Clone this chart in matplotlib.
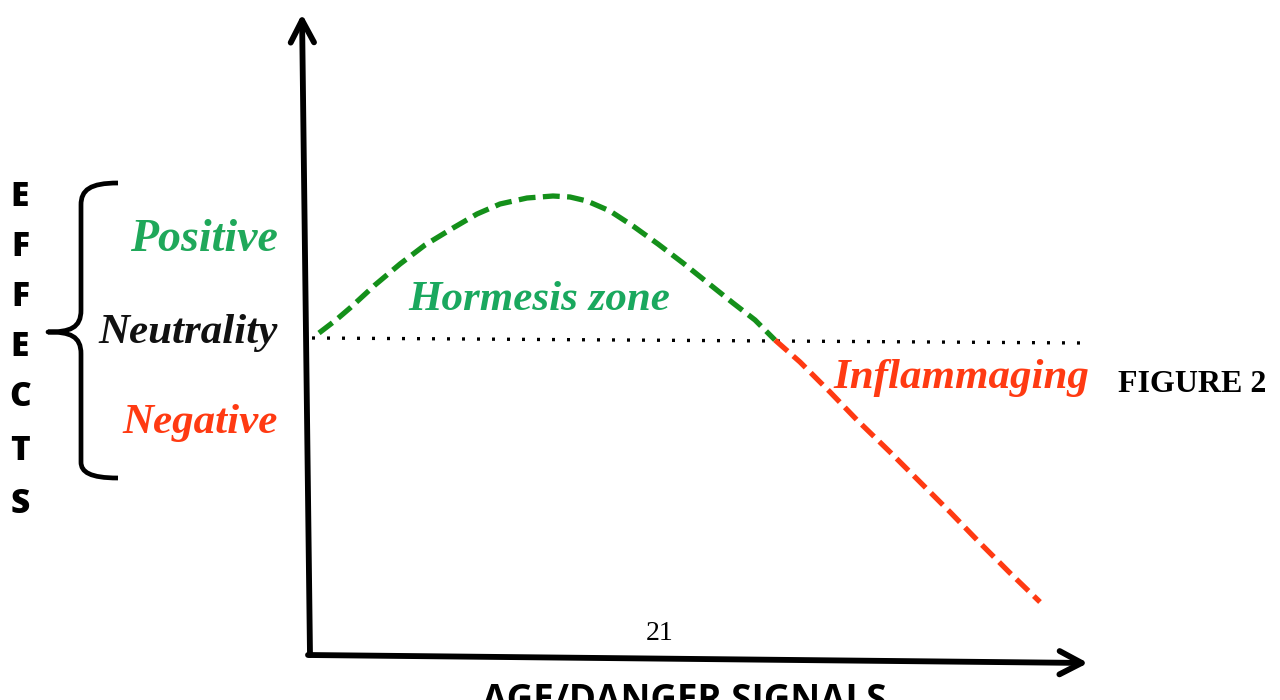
import matplotlib
matplotlib.use("Agg")
import matplotlib.pyplot as plt
from matplotlib.path import Path
from matplotlib.patches import PathPatch

# ---- data (in the drawing's own coordinate units) ----
hormesis_x = [319, 336, 350, 375, 400, 425, 453, 477, 500, 527, 553, 570, 587, 610, 633, 658, 683, 708, 733, 755, 775]
hormesis_y = [333, 320, 308, 285, 264, 245, 228, 214, 204, 198, 196, 197, 201, 211, 226, 244, 263, 283, 303, 320, 340]
inflam_x = [775, 800, 830, 857, 890, 920, 950, 980, 1010, 1040]
inflam_y = [340, 362, 392, 420, 452, 482, 512, 543, 573, 602]
neutral_x = [312, 1085]
neutral_y = [338, 343]

effect_levels = ["Positive", "Neutrality", "Negative"]
effect_colors = ["#1fa85a", "#111111", "#ff3a12"]
effect_y = [240, 333, 423]
effects_letters = list("EFFECTS")
letters_y = [197, 247, 297, 347, 397, 451, 504]

GREEN_LINE = "#14901a"
GREEN_TEXT = "#1aa85e"
RED = "#ff3a12"

fig = plt.figure(figsize=(12.8, 7), dpi=100)
ax = fig.add_axes([0, 0, 1, 1])
ax.set_xlim(0, 1280)
ax.set_ylim(700, 0)
ax.axis("off")

# axes
arrow_style = "->,head_length=0.8,head_width=0.42"
ax.annotate("", xy=(302, 14), xytext=(310, 655),
            arrowprops=dict(arrowstyle=arrow_style, lw=4.2, color="black",
                            mutation_scale=20, shrinkA=0, shrinkB=0))
ax.annotate("", xy=(1088, 663), xytext=(308, 655),
            arrowprops=dict(arrowstyle=arrow_style, lw=4.2, color="black",
                            mutation_scale=20, shrinkA=0, shrinkB=0))

# neutrality dotted line
ax.plot(neutral_x, neutral_y, color="black", lw=2.4, linestyle=(0, (0.9, 3.6)),
        dash_capstyle="butt")

# curves
ax.plot(hormesis_x, hormesis_y, color=GREEN_LINE, lw=3.8, linestyle=(0, (3.2, 1.4)),
        solid_joinstyle="round", dash_joinstyle="round")
ax.plot(inflam_x, inflam_y, color=RED, lw=3.8, linestyle=(0, (3.2, 1.4)))

# brace
verts = [(118, 183), (90, 183), (81, 190), (81, 205),
         (81, 310),
         (81, 328), (70, 332), (48, 332),
         (70, 332), (81, 336), (81, 354),
         (81, 462),
         (81, 472), (90, 478), (118, 478)]
codes = [Path.MOVETO, Path.CURVE4, Path.CURVE4, Path.CURVE4,
         Path.LINETO,
         Path.CURVE4, Path.CURVE4, Path.CURVE4,
         Path.CURVE4, Path.CURVE4, Path.CURVE4,
         Path.LINETO,
         Path.CURVE4, Path.CURVE4, Path.CURVE4]
ax.add_patch(PathPatch(Path(verts, codes), fill=False, lw=3.4, color="black",
                       capstyle="butt", joinstyle="round"))

# EFFECTS letters
for ch, y in zip(effects_letters, letters_y):
    ax.text(20, y, ch, ha="center", va="center", fontsize=24, fontweight="heavy",
            family="Open Sans", color="black")

serif = "Liberation Serif"
for lab, c, y, fs in zip(effect_levels, effect_colors, effect_y, [33, 31, 31]):
    ax.text(278, y, lab, ha="right", va="center", fontsize=fs, fontweight="bold",
            fontstyle="italic", family=serif, color=c)

ax.text(539, 300, "Hormesis zone", ha="center", va="center", fontsize=31,
        fontweight="bold", fontstyle="italic", family=serif, color=GREEN_TEXT)
ax.text(961, 378, "Inflammaging", ha="center", va="center", fontsize=31,
        fontweight="bold", fontstyle="italic", family=serif, color=RED)
ax.text(1192, 384, "FIGURE 2", ha="center", va="center", fontsize=23,
        fontweight="bold", family=serif, color="black")
ax.text(660, 633, "21", ha="center", va="center", fontsize=20,
        family=serif, color="black")
ax.text(684, 682, "AGE/DANGER SIGNALS", ha="center", va="top", fontsize=26.5,
        fontweight="bold", family="Open Sans", color="black")

fig.savefig("out.png", dpi=100)
